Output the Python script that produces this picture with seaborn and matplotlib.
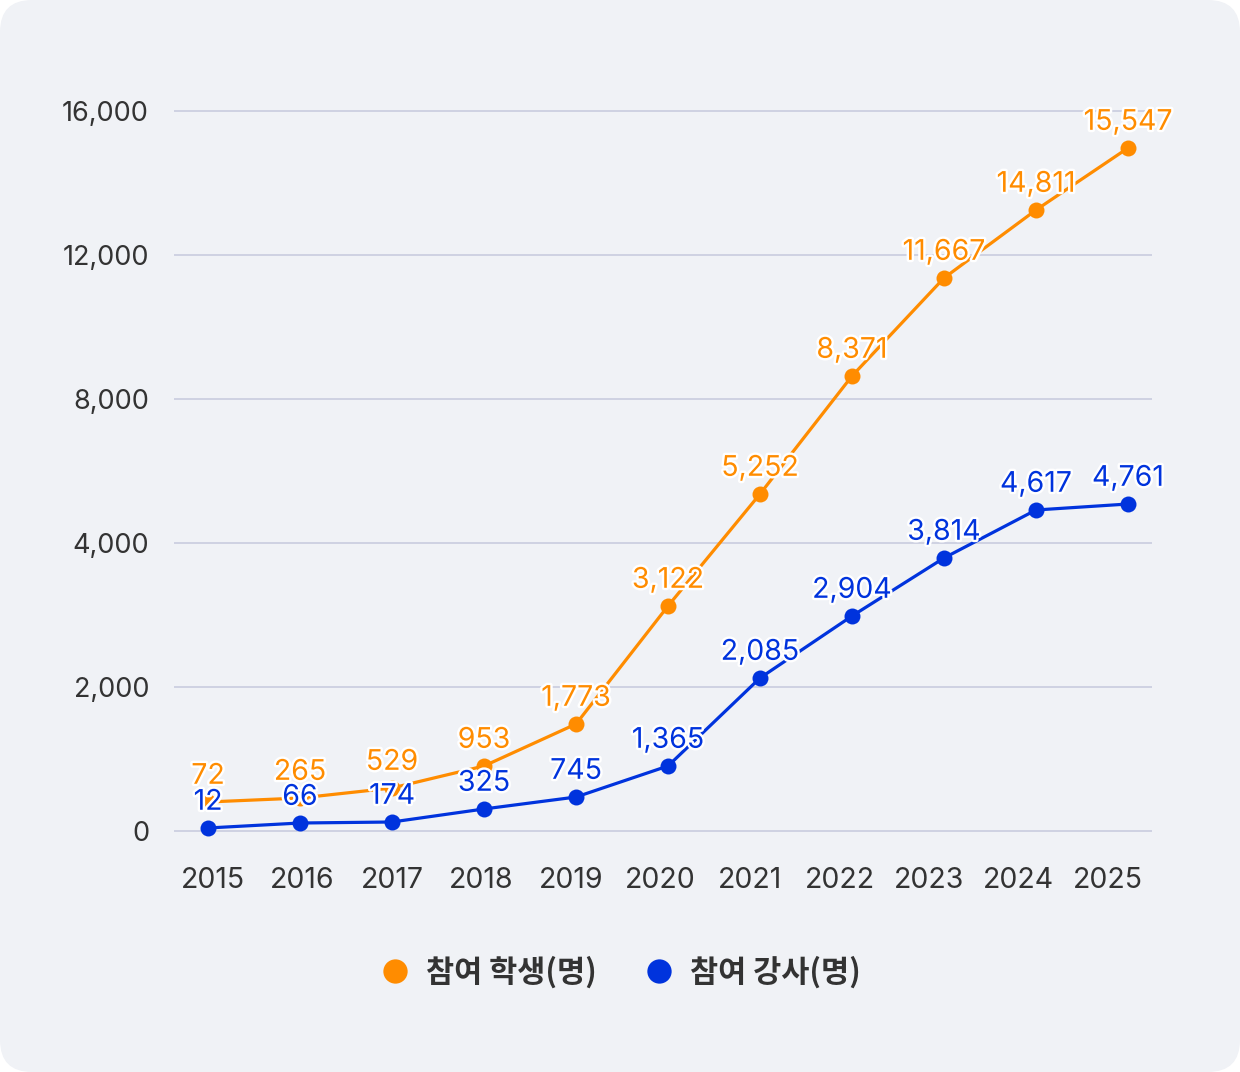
import numpy as np
import pandas as pd
import matplotlib
matplotlib.use("Agg")
import matplotlib.pyplot as plt
import matplotlib.patheffects as pe
from matplotlib.patches import FancyBboxPatch
from matplotlib.lines import Line2D
from matplotlib.ticker import FixedLocator, FuncFormatter
import seaborn as sns

# ---------------- data ----------------
years = [2015, 2016, 2017, 2018, 2019, 2020, 2021, 2022, 2023, 2024, 2025]
series_names = ["참여 학생(명)", "참여 강사(명)"]
# value labels printed on the chart
student_labels = [72, 265, 529, 953, 1773, 3122, 5252, 8371, 11667, 14811, 15547]
instructor_labels = [12, 66, 174, 325, 745, 1365, 2085, 2904, 3814, 4617, 4761]
# point heights as read against the chart's (non-uniform) y axis
student_points = [403, 458, 597, 903, 1486, 3125, 5361, 8639, 11361, 13250, 14972]
instructor_points = [42, 111, 125, 306, 472, 903, 2125, 2986, 3792, 4917, 5083]
y_ticks = [0, 2000, 4000, 8000, 12000, 16000]

colors = {"참여 학생(명)": "#FF8C00", "참여 강사(명)": "#0033DD"}

df = pd.DataFrame({
    "year": years * 2,
    "series": [series_names[0]] * len(years) + [series_names[1]] * len(years),
    "value": student_points + instructor_points,
    "label": student_labels + instructor_labels,
})

# ---------------- style ----------------
sns.set_style("white")
plt.rcParams["font.family"] = ["Inter", "Noto Sans CJK KR", "DejaVu Sans"]
plt.rcParams["axes.unicode_minus"] = False

BG = "#F0F2F6"
GRID = "#C9CCDE"
TXT = "#333333"

fig = plt.figure(figsize=(12.4, 10.72), dpi=100, facecolor="white")
fig.patches.append(FancyBboxPatch((0, 0), 12.4, 10.72,
                                  boxstyle="round,pad=0,rounding_size=0.32",
                                  transform=fig.dpi_scale_trans,
                                  facecolor=BG, edgecolor="none", zorder=-10))

ax = fig.add_axes([174 / 1240, 1 - 845 / 1072, 978 / 1240, 755 / 1072])
ax.set_facecolor("none")

# piecewise-linear y scale: equal spacing between the listed ticks
K = np.array(y_ticks, float)
P = np.arange(len(y_ticks), dtype=float)


def fwd(v):
    v = np.asarray(v, float)
    u = np.interp(v, K, P)
    lo_slope = (P[1] - P[0]) / (K[1] - K[0])
    hi_slope = (P[-1] - P[-2]) / (K[-1] - K[-2])
    u = np.where(v < K[0], P[0] + (v - K[0]) * lo_slope, u)
    u = np.where(v > K[-1], P[-1] + (v - K[-1]) * hi_slope, u)
    return u


def inv(u):
    u = np.asarray(u, float)
    v = np.interp(u, P, K)
    lo_slope = (K[1] - K[0]) / (P[1] - P[0])
    hi_slope = (K[-1] - K[-2]) / (P[-1] - P[-2])
    v = np.where(u < P[0], K[0] + (u - P[0]) * lo_slope, v)
    v = np.where(u > P[-1], K[-1] + (u - P[-1]) * hi_slope, v)
    return v


ax.set_yscale("function", functions=(fwd, inv))

sns.lineplot(data=df, x="year", y="value", hue="series", palette=colors,
             marker="o", markersize=11.5, markeredgewidth=0, linewidth=2.3,
             legend=False, ax=ax, zorder=3)

ax.set_xlim(2014.630, 2025.261)
ax.set_ylim(-194.44, 16583.3)

ax.yaxis.set_major_locator(FixedLocator(y_ticks))
ax.yaxis.set_major_formatter(FuncFormatter(lambda v, p: f"{int(round(v)):,}"))
ax.yaxis.set_minor_locator(FixedLocator([]))
ax.grid(axis="y", color=GRID, linewidth=1.2, zorder=0)
ax.grid(axis="x", visible=False)
ax.tick_params(axis="y", length=0, pad=18, labelsize=19.5, labelcolor=TXT)
ax.set_xticks(years)
ax.tick_params(axis="x", length=0, labelbottom=False)
for s in ax.spines.values():
    s.set_visible(False)
ax.set_xlabel("")
ax.set_ylabel("")

# year labels sit on a slightly narrower track than the points
sec = ax.secondary_xaxis("bottom",
                         functions=(lambda x: (x - 2015.054) / 0.9729 + 2015,
                                    lambda y: 2015.054 + 0.9729 * (y - 2015)))
sec.set_xticks(years)
sec.set_xticklabels([str(y) for y in years])
sec.tick_params(length=0, pad=16, labelsize=20.5, labelcolor=TXT)
for s in sec.spines.values():
    s.set_visible(False)

# value labels
stroke = [pe.withStroke(linewidth=3.5, foreground="white")]
for _, r in df.iterrows():
    ax.annotate(f"{r['label']:,}", (r["year"], r["value"]),
                xytext=(0, 18.5), textcoords="offset points",
                ha="center", va="center", fontsize=20.5,
                color=colors[r["series"]], path_effects=stroke, zorder=6,
                annotation_clip=False)

# legend
handles = [Line2D([], [], linestyle="none", marker="o", markersize=17.5,
                  markerfacecolor=colors[n], markeredgewidth=0) for n in series_names]
leg = fig.legend(handles, series_names, loc="center", ncol=2,
                 bbox_to_anchor=(620 / 1240, 1 - 972 / 1072),
                 frameon=False, handlelength=1.0, handletextpad=0.5,
                 columnspacing=1.55,
                 prop={"size": 22, "weight": "bold",
                       "family": ["Noto Sans CJK KR", "DejaVu Sans"]})
for t in leg.get_texts():
    t.set_color(TXT)

fig.savefig("out.png", dpi=100, facecolor="white")
